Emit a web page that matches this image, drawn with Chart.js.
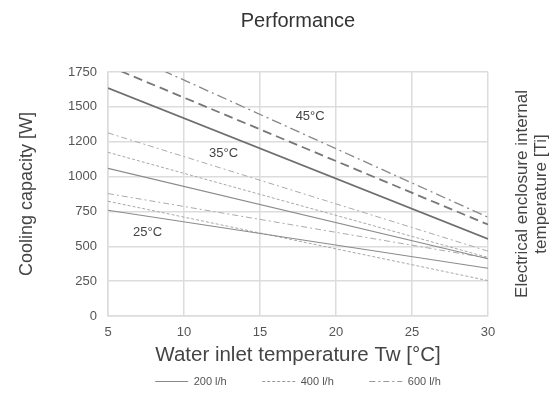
<!DOCTYPE html>
<html>
<head>
<meta charset="utf-8">
<script src="https://cdn.jsdelivr.net/npm/chart.js@4/dist/chart.umd.min.js"></script>
<style>
  html, body { margin: 0; padding: 0; background: #fff; }
</style>
</head>
<body>
<canvas id="perfChart" width="556" height="394"></canvas>
<script>
// water inlet temperature (x) at the two ends of each line
const tw = [5, 30];

const yTicks = [0, 250, 500, 750, 1000, 1250, 1500, 1750];
const yTickLabels = ['0', '250', '500', '750', '1000', '1200', '1500', '1750'];
const flows = ['200 l/h', '400 l/h', '600 l/h'];

// cooling capacity [W] per internal temperature Ti and flow
const ti45_200 = [1635, 553];
const ti45_400 = [1794, 656];
const ti45_600 = [1938, 708];
const ti35_200 = [1059, 410];
const ti35_400 = [1174, 420];
const ti35_600 = [1313, 465];
const ti25_200 = [758, 342];
const ti25_400 = [823, 254];
const ti25_600 = [878, 415];

const tempLabels = ['45°C', '35°C', '25°C'];
const tempLabelTw = [18.3, 12.6, 7.6];
const tempLabelW = [1430, 1163, 598];

const rightTitle = ['Electrical enclosure internal', 'temperature [Ti]'];

Chart.defaults.font.family = '"Liberation Sans", Arial, sans-serif';

const darkStyles = [
  { color: '#6e6e6e', width: 1.6, dash: [] },
  { color: '#777777', width: 1.8, dash: [9, 5] },
  { color: '#888888', width: 1.3, dash: [10, 4, 2, 4] }
];
const lightStyles = [
  { color: '#8a8a8a', width: 1.1, dash: [] },
  { color: '#a8a8a8', width: 1, dash: [3, 2] },
  { color: '#ababab', width: 1, dash: [6, 3, 2, 3] }
];
const legendStyles = [
  { color: '#888888', width: 1.2, dash: [] },
  { color: '#999999', width: 1.2, dash: [3, 2] },
  { color: '#999999', width: 1.2, dash: [6, 3, 2, 3] }
];

function line(label, values, st) {
  return {
    label,
    data: tw.map((x, i) => ({ x, y: values[i] })),
    borderColor: st.color,
    borderWidth: st.width,
    borderDash: st.dash,
    pointRadius: 0,
    fill: false,
    tension: 0
  };
}

const datasets = [
  line('45 / 200', ti45_200, darkStyles[0]),
  line('45 / 400', ti45_400, darkStyles[1]),
  line('45 / 600', ti45_600, darkStyles[2]),
  line('35 / 200', ti35_200, lightStyles[0]),
  line('35 / 400', ti35_400, lightStyles[1]),
  line('35 / 600', ti35_600, lightStyles[2]),
  line('25 / 200', ti25_200, lightStyles[0]),
  line('25 / 400', ti25_400, lightStyles[1]),
  line('25 / 600', ti25_600, lightStyles[2])
];

const tempLabelPlugin = {
  id: 'tempLabels',
  afterDatasetsDraw(chart) {
    const { ctx, scales } = chart;
    ctx.save();
    ctx.fillStyle = '#444';
    ctx.font = '13px "Liberation Sans", Arial, sans-serif';
    ctx.textAlign = 'center';
    ctx.textBaseline = 'middle';
    tempLabels.forEach((t, i) => {
      ctx.fillText(t, scales.x.getPixelForValue(tempLabelTw[i]), scales.y.getPixelForValue(tempLabelW[i]));
    });
    ctx.restore();
  }
};

const sideTitlePlugin = {
  id: 'sideTitle',
  afterDraw(chart) {
    const { ctx, chartArea } = chart;
    const cy = (chartArea.top + chartArea.bottom) / 2;
    ctx.save();
    ctx.fillStyle = '#444';
    ctx.font = '17px "Liberation Sans", Arial, sans-serif';
    ctx.textAlign = 'center';
    ctx.textBaseline = 'middle';
    rightTitle.forEach((txt, i) => {
      ctx.save();
      ctx.translate(chartArea.right + 34 + i * 19, cy);
      ctx.rotate(-Math.PI / 2);
      ctx.fillText(txt, 0, 0);
      ctx.restore();
    });
    ctx.restore();
  }
};

new Chart(document.getElementById('perfChart'), {
  type: 'line',
  data: { datasets },
  plugins: [tempLabelPlugin, sideTitlePlugin],
  options: {
    responsive: false,
    animation: false,
    devicePixelRatio: 1,
    layout: { padding: { top: 0, left: 0, right: 68, bottom: 0 } },
    plugins: {
      title: {
        display: true,
        text: 'Performance',
        fullSize: false,
        color: '#333',
        font: { size: 20, weight: 'normal' },
        padding: { top: 9, bottom: 39 }
      },
      legend: {
        position: 'bottom',
        fullSize: false,
        maxHeight: 26,
        labels: {
          usePointStyle: true,
          pointStyleWidth: 33,
          color: '#555',
          font: { size: 11 },
          padding: 8,
          generateLabels: () => flows.map((f, i) => ({
            text: i < 2 ? f + '         ' : f,
            pointStyle: 'line',
            strokeStyle: legendStyles[i].color,
            fillStyle: 'transparent',
            lineWidth: legendStyles[i].width,
            lineDash: legendStyles[i].dash,
            hidden: false,
            fontColor: '#555'
          }))
        }
      },
      tooltip: { enabled: false }
    },
    scales: {
      x: {
        type: 'linear',
        min: 5,
        max: 30,
        afterFit: s => { s.height = 52; },
        ticks: { stepSize: 5, color: '#555', font: { size: 13 }, padding: 9 },
        grid: { color: '#dcdcdc', lineWidth: 1.5, drawTicks: false },
        border: { color: '#dcdcdc', width: 1.5 },
        title: {
          display: true,
          text: 'Water inlet temperature Tw [°C]',
          color: '#444',
          font: { size: 20.5 },
          padding: { top: 0, bottom: 0 }
        }
      },
      y: {
        min: 0,
        max: 1750,
        afterFit: s => { s.width = 108; },
        afterBuildTicks: s => { s.ticks = yTicks.map(v => ({ value: v })); },
        ticks: {
          color: '#555',
          font: { size: 13 },
          padding: 11,
          callback: v => yTickLabels[yTicks.indexOf(v)]
        },
        grid: { color: '#dcdcdc', lineWidth: 1.5, drawTicks: false },
        border: { color: '#dcdcdc', width: 1.5 },
        title: {
          display: true,
          text: 'Cooling capacity [W]',
          color: '#444',
          font: { size: 18 },
          padding: { top: 16, bottom: 0 }
        }
      }
    }
  }
});
</script>
</body>
</html>
